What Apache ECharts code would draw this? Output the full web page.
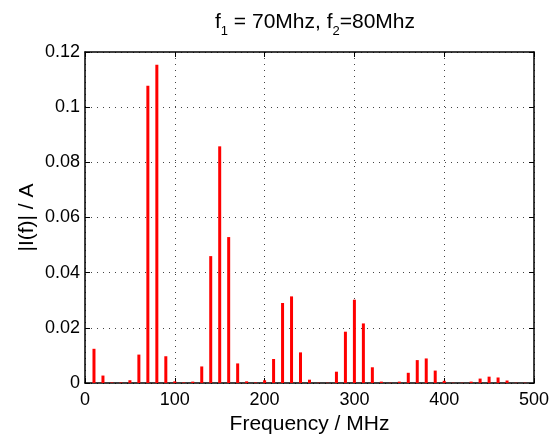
<!DOCTYPE html>
<html>
<head>
<meta charset="utf-8">
<script src="https://cdn.jsdelivr.net/npm/echarts@6/dist/echarts.min.js"></script>
<style>
  html, body { margin: 0; padding: 0; background: #fff; }
  #chart { width: 555px; height: 436px; }
</style>
</head>
<body>
<div id="chart"></div>
<script>
// Data
const frequencies = [10, 20, 30, 40, 50, 60, 70, 80, 90, 100,
  110, 120, 130, 140, 150, 160, 170, 180, 190, 200,
  210, 220, 230, 240, 250, 260, 270, 280, 290, 300,
  310, 320, 330, 340, 350, 360, 370, 380, 390, 400,
  410, 420, 430, 440, 450, 460, 470, 480, 490];
const amplitudes = [0.0124, 0.0027, 0.0002, 0.0002, 0.0010, 0.0103, 0.1078, 0.1154, 0.0097, 0.0006,
  0.0002, 0.0005, 0.0060, 0.0460, 0.0858, 0.0529, 0.0071, 0.0006, 0.0002, 0.0010,
  0.0087, 0.0290, 0.0314, 0.0111, 0.0012, 0.0001, 0.0001, 0.0041, 0.0186, 0.0302,
  0.0216, 0.0057, 0.0005, 0.0001, 0.0005, 0.0037, 0.0083, 0.0089, 0.0045, 0.0008,
  0.0001, 0.0001, 0.0005, 0.0016, 0.0023, 0.0020, 0.0009, 0.0001, 0.0001];
const xTicks = [0, 100, 200, 300, 400, 500];
const yTicks = [0, 0.02, 0.04, 0.06, 0.08, 0.1, 0.12];

const FONT = '"Liberation Sans", Arial, Helvetica, sans-serif';
const chart = echarts.init(document.getElementById('chart'), null, { renderer: 'canvas' });

const gridLine = { show: true, lineStyle: { color: '#444', width: 1, type: [1, 5] } };

const seriesData = frequencies.map((f, i) => [f, amplitudes[i]]);

chart.setOption({
  animation: false,
  backgroundColor: '#fff',
  title: {
    text: '{t|f}{s|1}{t| = 70Mhz, f}{s|2}{t|=80Mhz}',
    left: 310,
    top: 7,
    textAlign: 'center',
    textStyle: {
      fontWeight: 'normal',
      rich: {
        t: { fontFamily: FONT, fontSize: 21, fontWeight: 'normal', color: '#000', verticalAlign: 'top', lineHeight: 24 },
        s: { fontFamily: FONT, fontSize: 13, fontWeight: 'normal', color: '#000', verticalAlign: 'top', lineHeight: 14, padding: [13, 0, 0, 0] }
      }
    }
  },
  grid: { left: 85, right: 21, top: 52, bottom: 53, containLabel: false, outerBoundsMode: 'none' },
  xAxis: [{
    type: 'value', min: xTicks[0], max: xTicks[xTicks.length - 1], interval: 100,
    position: 'bottom',
    name: 'Frequency / MHz', nameLocation: 'middle', nameGap: 27,
    nameTextStyle: { fontFamily: FONT, fontSize: 21, color: '#000' },
    axisLine: { show: true, onZero: false, lineStyle: { color: '#000', width: 1.5 } },
    axisTick: { show: true, inside: true, length: 5, lineStyle: { color: '#000', width: 1 } },
    axisLabel: { fontFamily: FONT, fontSize: 18, color: '#000', margin: 8 },
    splitLine: gridLine
  }, {
    type: 'value', min: xTicks[0], max: xTicks[xTicks.length - 1], interval: 100,
    position: 'top',
    axisLine: { show: true, onZero: false, lineStyle: { color: '#000', width: 1.5 } },
    axisTick: { show: true, inside: true, length: 5, lineStyle: { color: '#000', width: 1 } },
    axisLabel: { show: false },
    splitLine: { show: false }
  }],
  yAxis: [{
    type: 'value', min: yTicks[0], max: yTicks[yTicks.length - 1], interval: 0.02,
    position: 'left',
    name: '|I(f)| / A', nameLocation: 'middle', nameGap: 47, nameRotate: 90,
    nameMoveOverlap: false,
    nameTextStyle: { fontFamily: FONT, fontSize: 21, color: '#000' },
    axisLine: { show: true, onZero: false, lineStyle: { color: '#000', width: 1.5 } },
    axisTick: { show: true, inside: true, length: 5, lineStyle: { color: '#000', width: 1 } },
    axisLabel: { fontFamily: FONT, fontSize: 18, color: '#000', margin: 5,
      formatter: v => String(Math.round(v * 100) / 100) },
    splitLine: gridLine
  }, {
    type: 'value', min: yTicks[0], max: yTicks[yTicks.length - 1], interval: 0.02,
    position: 'right',
    axisLine: { show: true, onZero: false, lineStyle: { color: '#000', width: 1.5 } },
    axisTick: { show: true, inside: true, length: 5, lineStyle: { color: '#000', width: 1 } },
    axisLabel: { show: false },
    splitLine: { show: false }
  }],
  series: [{
    type: 'bar',
    xAxisIndex: 0,
    yAxisIndex: 0,
    data: seriesData,
    barWidth: 3,
    itemStyle: { color: '#ff0000' },
    z: 3
  }]
});
</script>
</body>
</html>
